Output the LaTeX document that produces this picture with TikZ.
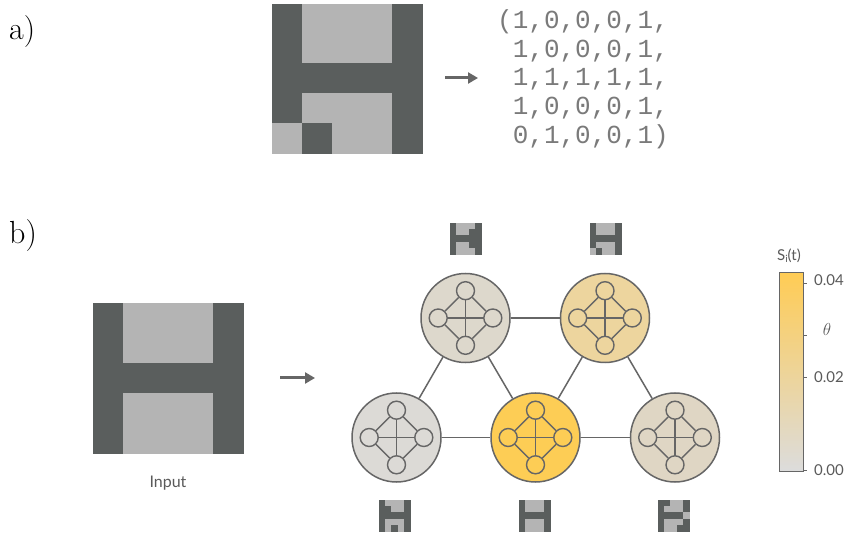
\documentclass[tikz,border=0pt]{standalone}
\usepackage{fontspec}
\newfontfamily\labfont{Lato}
\newfontfamily\monofont{Liberation Mono}
\usetikzlibrary{arrows.meta}
\definecolor{pxdark}{HTML}{5A5E5D}
\definecolor{pxlight}{HTML}{B4B4B4}
\definecolor{linegray}{HTML}{666666}
\definecolor{txtgray}{HTML}{5A5A5A}
\definecolor{monogray}{HTML}{7A7A7A}
\definecolor{gold}{HTML}{FFCC55}
\definecolor{barbot}{HTML}{DCDCDC}
\definecolor{cA}{HTML}{DDD8CC}
\definecolor{cB}{HTML}{EDD59E}
\definecolor{cC}{HTML}{DCDAD6}
\definecolor{cD}{HTML}{FDCD55}
\definecolor{cE}{HTML}{DFD6C4}
\newcommand\pxgrid[5]{% x0, y0, cell w, cell h, rows
  \foreach \prow [count=\pr from 0] in {#5} {
    \foreach \pv [count=\pc from 0] in \prow {
      \ifnum\pv=1
        \fill[pxdark,draw=pxdark,line width=0.3pt] ({#1+\pc*#3},{#2+\pr*#4}) rectangle ++(#3,#4);
      \else
        \fill[pxlight,draw=pxlight,line width=0.3pt] ({#1+\pc*#3},{#2+\pr*#4}) rectangle ++(#3,#4);
      \fi
    }
  }
}
\newcommand\innernet[3]{% name, x, y
  \node[smallnode] (#1t) at (#2,#3-27.3) {};
  \node[smallnode] (#1b) at (#2,#3+27.3) {};
  \node[smallnode] (#1l) at (#2-27.3,#3) {};
  \node[smallnode] (#1r) at (#2+27.3,#3) {};
  \draw[inedge] (#1t) -- (#1b);
  \draw[inedge] (#1l) -- (#1r);
  \draw[inedge] (#1t) -- (#1l);
  \draw[inedge] (#1l) -- (#1b);
  \draw[inedge] (#1b) -- (#1r);
  \draw[inedge] (#1r) -- (#1t);
}
\begin{document}
\begin{tikzpicture}[x=1pt,y=-1pt,
  bignode/.style={circle,draw=linegray,line width=1.5pt,minimum size=89pt,inner sep=0pt},
  smallnode/.style={circle,draw=linegray,line width=1.4pt,minimum size=18pt,inner sep=0pt},
  inedge/.style={draw=linegray,line width=1.4pt},
  edge/.style={draw=linegray,line width=1.5pt},
  arr/.style={draw=linegray,line width=3pt,-{Triangle[length=10pt,width=11pt]}},
  lab/.style={font=\labfont\fontsize{15}{18}\selectfont,text=txtgray,inner sep=0pt},
  mono/.style={font=\monofont\fontsize{26}{30}\selectfont,text=monogray,anchor=base west,inner sep=0pt},
  part/.style={font=\fontsize{32}{38}\selectfont,anchor=base west,inner sep=0pt}]
\useasboundingbox (0,0) rectangle (844,537);
\fill[white] (0,0) rectangle (844,537);

% a)
\node[part] (la) at (9,40) {a)};
\pxgrid{272}{4}{30}{29.8}{{1,0,0,0,1},{1,0,0,0,1},{1,1,1,1,1},{1,0,0,0,1},{0,1,0,0,1}}
\coordinate (a1) at (445,78);
\coordinate (a2) at (478,78);
\draw[arr] (a1) -- (a2);
\node[mono] (m1) at (497,28.5) {(1,0,0,0,1,};
\node[mono] (m2) at (497,57.3) {\phantom{(}1,0,0,0,1,};
\node[mono] (m3) at (497,86) {\phantom{(}1,1,1,1,1,};
\node[mono] (m4) at (497,114.7) {\phantom{(}1,0,0,0,1,};
\node[mono] (m5) at (497,143.4) {\phantom{(}0,1,0,0,1)};

% b)
\node[part] (lb) at (9,244) {b)};
\pxgrid{93}{303}{30}{30}{{1,0,0,0,1},{1,0,0,0,1},{1,1,1,1,1},{1,0,0,0,1},{1,0,0,0,1}}
\node[lab,font=\labfont\fontsize{16}{19}\selectfont] (inp) at (168,483) {Input};
\coordinate (b1) at (280,378);
\coordinate (b2) at (315,378);
\draw[arr] (b1) -- (b2);

% network
\node[bignode,fill=cA] (n1) at (465.5,318) {};
\node[bignode,fill=cB] (n2) at (605,318) {};
\node[bignode,fill=cC] (n3) at (396.5,437.5) {};
\node[bignode,fill=cD] (n4) at (535.5,437.5) {};
\node[bignode,fill=cE] (n5) at (675,437.5) {};
\draw[edge] (n1) -- (n2);
\draw[edge] (n1) -- (n3);
\draw[edge] (n1) -- (n4);
\draw[edge] (n2) -- (n4);
\draw[edge] (n2) -- (n5);
\draw[edge] (n3) -- (n4);
\draw[edge] (n4) -- (n5);
\innernet{n1}{465.5}{318}
\innernet{n2}{605}{318}
\innernet{n3}{396.5}{437.5}
\innernet{n4}{535.5}{437.5}
\innernet{n5}{675}{437.5}

% pixel icons
\pxgrid{450}{223}{6.3}{6.3}{{1,0,0,0,1},{1,0,0,1,1},{1,1,1,1,1},{1,0,0,1,1},{1,0,0,0,1}}
\pxgrid{590}{223}{6.3}{6.3}{{1,0,0,0,1},{1,0,0,0,1},{1,1,1,1,1},{1,0,0,0,1},{0,1,0,0,1}}
\pxgrid{379}{500}{6.3}{6.3}{{1,0,0,0,1},{1,1,0,0,1},{1,1,1,1,1},{1,0,0,0,1},{1,0,1,0,1}}
\pxgrid{519}{500}{6.3}{6.3}{{1,0,0,0,1},{1,0,0,0,1},{1,1,1,1,1},{1,0,0,0,1},{1,0,0,0,1}}
\pxgrid{658}{500}{6.3}{6.3}{{1,1,0,0,1},{1,0,0,0,1},{1,1,1,1,0},{1,0,0,0,1},{1,0,0,1,1}}

% colour bar
\shade[top color=gold,bottom color=barbot] (779,273) rectangle (803,471);
\draw[linegray,line width=1pt] (779,273) rectangle (803,471);
\draw[linegray,line width=0.8pt] (803,283) -- (807,283);
\draw[linegray,line width=0.8pt] (803,335) -- (807,335);
\draw[linegray,line width=0.8pt] (803,377) -- (807,377);
\draw[linegray,line width=0.8pt] (803,470) -- (807,470);
\node[lab,anchor=south] (st) at (789,263) {S\raisebox{-0.25ex}{\fontsize{10}{12}\selectfont i}(t)};
\node[lab,anchor=west] (t4) at (814,280) {0.04};
\node[lab,anchor=center,text=txtgray] (tth) at (827,330) {\fontsize{18}{20}\selectfont$\theta$};
\node[lab,anchor=west] (t2) at (814,377) {0.02};
\node[lab,anchor=west] (t0) at (814,470) {0.00};
\end{tikzpicture}
\end{document}
